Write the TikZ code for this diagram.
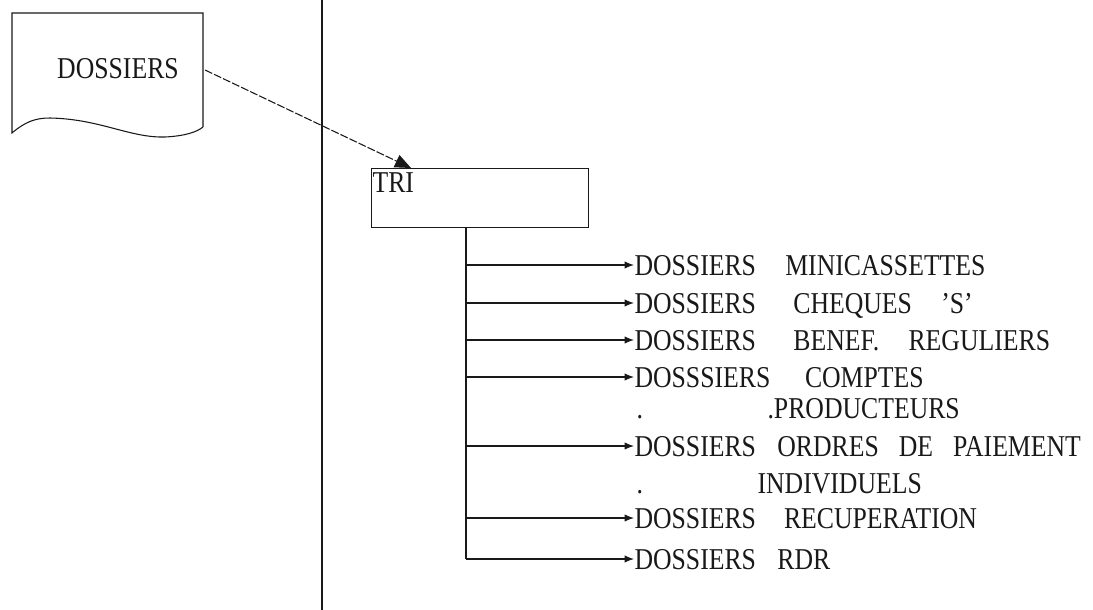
\documentclass[tikz,border=0pt]{standalone}
\usepackage{fontspec}
\setmainfont[FakeStretch=0.85]{Liberation Serif}
\usetikzlibrary{arrows.meta,calc}
\definecolor{scanblack}{RGB}{25,25,25}

\tikzset{
  lbl/.style={anchor=west,inner sep=0pt,text height=15pt,text depth=0pt,
    font=\fontsize{22.7}{24}\selectfont},
  branch/.style={-{Latex[length=7pt,width=5.5pt]},line width=0.9pt},
}

\begin{document}
\begin{tikzpicture}[x=0.75pt,y=-0.75pt,line width=0.8pt,scanblack]
\useasboundingbox(0,0)rectangle(1093,610);
% separator
\draw[line width=1.6pt](322,0)--(322,610);
% document
\draw(203,127)--(203,13)--(12,13)--(12,133)
  ..controls(25,122)and(35,118)..(50,118)
  ..controls(100,119)and(130,138)..(165,137)
  ..controls(185,136)and(197,132)..(203,127);
\node[lbl,anchor=center](doc)at(118,69){DOSSIERS};
\coordinate(docout)at(205,70);
% tri
\node[draw,anchor=north west,inner sep=0pt,minimum width=162.75pt,
  minimum height=44.25pt](tri)at(371,168){};
\node[lbl,anchor=north west](trilbl)at($(tri.north west)+(1,4)$){TRI};
\coordinate(triin)at($(tri.north west)+(40,0)$);
\draw[dash pattern=on 6pt off 1.5pt,-{Triangle[length=12pt,width=10pt]}]
  (docout)--(triin);
\coordinate(trunk)at($(tri.south west)+(95,0)$);
% branches
\foreach \n/\yy/\txt in {1/265/{DOSSIERS\hspace{22pt}MINICASSETTES},
    2/303/{DOSSIERS\hspace{28pt}CHEQUES\hspace{22pt}'S'},
    3/340/{DOSSIERS\hspace{28pt}BENEF.\hspace{22pt}REGULIERS},
    4/377/{DOSSSIERS\hspace{26pt}COMPTES},
    5/446/{DOSSIERS\hspace{16pt}ORDRES\hspace{15pt}DE\hspace{15pt}PAIEMENT},
    6/518/{DOSSIERS\hspace{21pt}RECUPERATION},
    7/559/{DOSSIERS\hspace{16pt}RDR}}{
  \node[lbl](d\n)at(634,\yy){\txt};
  \draw[branch](trunk|-d\n.west)--(d\n.west);
}
\draw(trunk)--(trunk|-d7.west);
\node[lbl](d4b)at(767,408){.PRODUCTEURS};
\node[lbl](d4dot)at(636,408){.};
\node[lbl](d5b)at(757,483){INDIVIDUELS};
\node[lbl](d5dot)at(636,483){.};
\end{tikzpicture}
\end{document}
